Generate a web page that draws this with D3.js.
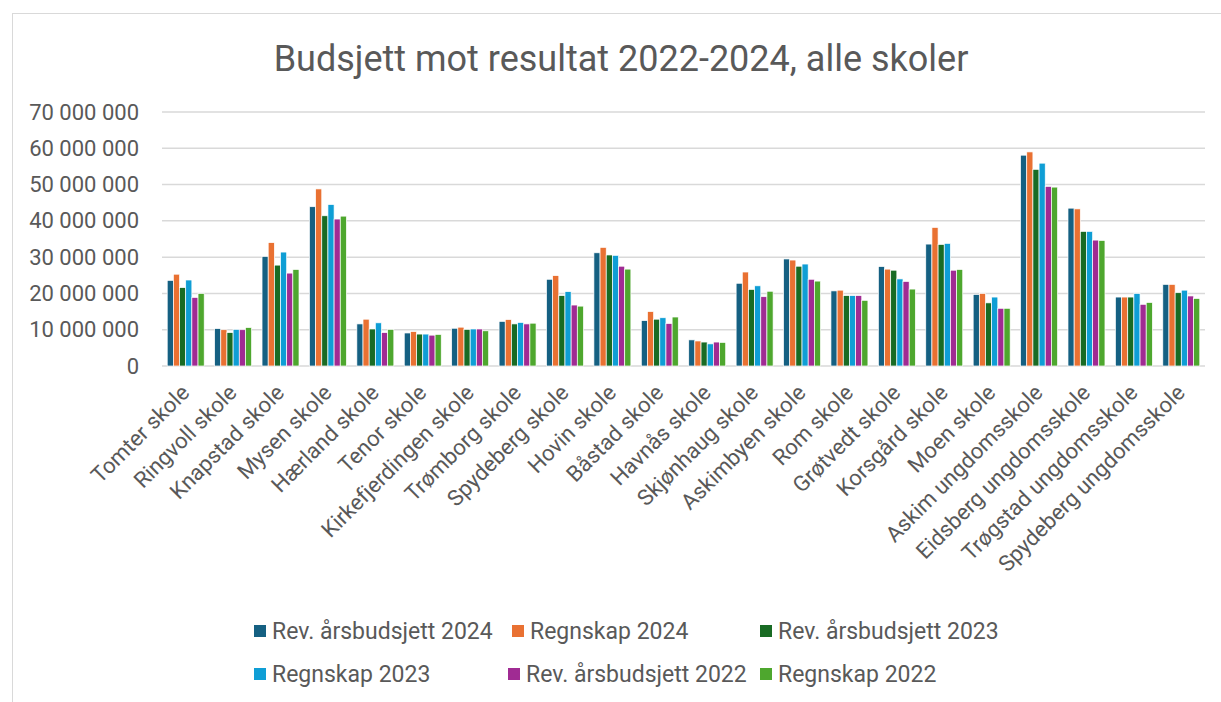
<!DOCTYPE html>
<html>
<head>
<meta charset="utf-8">
<script src="https://cdn.jsdelivr.net/npm/d3@7"></script>
<style>
  body { margin: 0; background: #fff; }
  text { font-family: Roboto, "Open Sans", sans-serif; fill: #595959; }
</style>
</head>
<body>
<div id="chart"></div>
<script>
// schools on the x axis
var schools = ["Tomter skole", "Ringvoll skole", "Knapstad skole", "Mysen skole", "Hærland skole",
  "Tenor skole", "Kirkefjerdingen skole", "Trømborg skole", "Spydeberg skole", "Hovin skole",
  "Båstad skole", "Havnås skole", "Skjønhaug skole", "Askimbyen skole", "Rom skole",
  "Grøtvedt skole", "Korsgård skole", "Moen skole", "Askim ungdomsskole", "Eidsberg ungdomsskole",
  "Trøgstad ungdomsskole", "Spydeberg ungdomsskole"];

var seriesNames = ["Rev. årsbudsjett 2024", "Regnskap 2024", "Rev. årsbudsjett 2023",
  "Regnskap 2023", "Rev. årsbudsjett 2022", "Regnskap 2022"];
var colors = ["#156082", "#E97132", "#196B24", "#0F9ED5", "#A02B93", "#4EA72E"];

// values in NOK
var budget2024 = [23600000, 10300000, 30200000, 43900000, 11600000, 9100000, 10400000, 12300000, 23900000, 31200000, 12500000, 7200000, 22800000, 29500000, 20700000, 27400000, 33600000, 19700000, 58100000, 43500000, 19000000, 22500000];
var result2024 = [25300000, 10000000, 34000000, 48800000, 12900000, 9500000, 10700000, 12800000, 24900000, 32700000, 15000000, 6900000, 25900000, 29200000, 20900000, 26700000, 38200000, 20000000, 59000000, 43300000, 19000000, 22500000];
var budget2023 = [21600000, 9200000, 27800000, 41400000, 10200000, 8800000, 10100000, 11600000, 19400000, 30600000, 12900000, 6600000, 21100000, 27500000, 19400000, 26400000, 33500000, 17400000, 54200000, 37100000, 19000000, 20200000];
var result2023 = [23700000, 10100000, 31400000, 44500000, 11900000, 8800000, 10200000, 12000000, 20500000, 30500000, 13300000, 6100000, 22100000, 28100000, 19400000, 24000000, 33800000, 19000000, 55900000, 37100000, 20000000, 20900000];
var budget2022 = [18900000, 10000000, 25600000, 40500000, 9200000, 8500000, 10200000, 11600000, 16800000, 27500000, 11700000, 6600000, 19100000, 23900000, 19400000, 23300000, 26400000, 15900000, 49500000, 34700000, 17000000, 19300000];
var result2022 = [20000000, 10600000, 26600000, 41300000, 10100000, 8700000, 9700000, 11800000, 16500000, 26700000, 13500000, 6500000, 20600000, 23400000, 18100000, 21200000, 26600000, 15900000, 49300000, 34600000, 17500000, 18600000];

var yTicks = [0, 10000000, 20000000, 30000000, 40000000, 50000000, 60000000, 70000000];

var allSeries = [budget2024, result2024, budget2023, result2023, budget2022, result2022];

var width = 1221, height = 702;
var margin = {top: 112, right: 16, bottom: 336, left: 162};

var svg = d3.select("#chart").append("svg")
  .attr("width", width)
  .attr("height", height);

// outer chart border
svg.append("rect")
  .attr("x", 12.5).attr("y", 13.5)
  .attr("width", 1215).attr("height", 700)
  .attr("fill", "none")
  .attr("stroke", "#d9d9d9");

svg.append("text")
  .attr("x", 621).attr("y", 71)
  .attr("text-anchor", "middle")
  .style("font-size", "36px")
  .text("Budsjett mot resultat 2022-2024, alle skoler");

var x0 = d3.scaleBand()
  .domain(schools)
  .range([margin.left, width - margin.right])
  .paddingInner(0.22)
  .paddingOuter(0.11);

var x1 = d3.scaleBand()
  .domain(d3.range(seriesNames.length))
  .range([0, x0.bandwidth()]);

var y = d3.scaleLinear()
  .domain([0, 70000000])
  .range([height - margin.bottom, margin.top]);

var fmt = function(v) { return d3.format(",")(v).replace(/,/g, " "); };

// grid lines
svg.append("g")
  .selectAll("line")
  .data(yTicks)
  .enter()
  .append("line")
  .attr("x1", margin.left)
  .attr("x2", width - margin.right)
  .attr("y1", function(d) { return y(d); })
  .attr("y2", function(d) { return y(d); })
  .attr("stroke", "#d9d9d9")
  .attr("stroke-width", 1.5);

var yAxis = svg.append("g")
  .attr("transform", "translate(" + (margin.left - 23) + ",0)")
  .call(d3.axisLeft(y).tickValues(yTicks).tickFormat(fmt).tickSize(0).tickPadding(0));
yAxis.select(".domain").remove();
yAxis.selectAll("text").style("font-size", "22px").attr("fill", "#595959");

// bars
var groups = svg.append("g")
  .selectAll("g")
  .data(schools)
  .enter()
  .append("g")
  .attr("transform", function(d) { return "translate(" + x0(d) + ",0)"; });

groups.selectAll("rect")
  .data(function(d, i) { return allSeries.map(function(s, k) { return {k: k, v: s[i]}; }); })
  .enter()
  .append("rect")
  .attr("x", function(d) { return x1(d.k); })
  .attr("width", x1.bandwidth())
  .attr("y", function(d) { return y(d.v); })
  .attr("height", function(d) { return y(0) - y(d.v); })
  .attr("fill", function(d) { return colors[d.k]; })
  .attr("stroke", "#fff")
  .attr("stroke-width", 0.7);

// x labels rotated
svg.append("g")
  .selectAll("text")
  .data(schools)
  .enter()
  .append("text")
  .attr("transform", function(d) {
    return "translate(" + (x0(d) + x0.bandwidth() / 2 + 5) + "," + 394 + ") rotate(-45)";
  })
  .attr("text-anchor", "end")
  .style("font-size", "22px")
  .text(function(d) { return d; });

// legend
var legendPos = [[254, 631], [512, 631], [760, 631], [254, 674], [508, 674], [760, 674]];
var legend = svg.append("g")
  .selectAll("g")
  .data(seriesNames)
  .enter()
  .append("g")
  .attr("transform", function(d, i) { return "translate(" + legendPos[i][0] + "," + legendPos[i][1] + ")"; });

legend.append("rect")
  .attr("x", 0).attr("y", -6)
  .attr("width", 12).attr("height", 12)
  .attr("fill", function(d, i) { return colors[i]; });

legend.append("text")
  .attr("x", 18)
  .attr("dy", "0.35em")
  .style("font-size", "23px")
  .text(function(d) { return d; });
</script>
</body>
</html>
